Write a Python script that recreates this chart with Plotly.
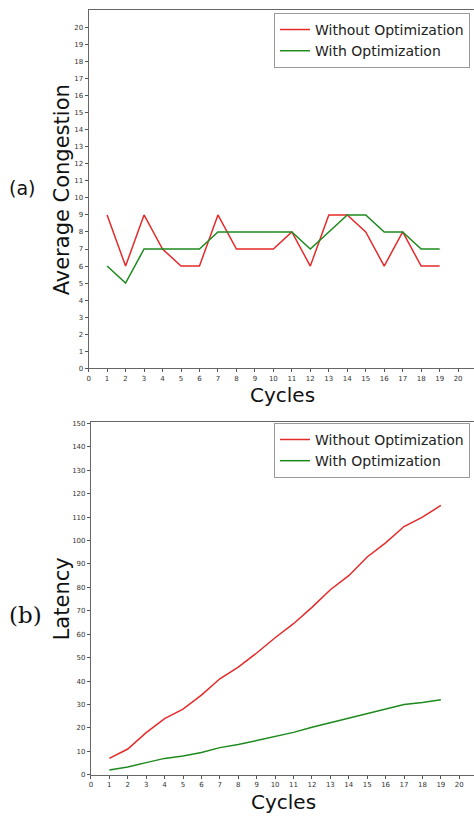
import plotly.graph_objects as go

cycles = list(range(1, 20))
congestion_without = [9, 6, 9, 7, 6, 6, 9, 7, 7, 7, 8, 6, 9, 9, 8, 6, 8, 6, 6]
congestion_with = [6, 5, 7, 7, 7, 7, 8, 8, 8, 8, 8, 7, 8, 9, 9, 8, 8, 7, 7]
latency_without = [7, 11, 18, 24, 28, 34, 41, 46, 52, 58.5, 64.5, 71.5, 79, 85, 93, 99, 106, 110, 115]
latency_with = [2, 3.3, 5.2, 7, 8, 9.5, 11.6, 12.9, 14.6, 16.4, 18.1, 20.3, 22.3, 24.3, 26.3, 28.2, 30, 30.9, 32]
x_ticks = list(range(0, 21))
congestion_ticks = list(range(0, 21))
latency_ticks = list(range(0, 151, 10))
names = ["Without Optimization", "With Optimization"]

RED = "#e52a2a"
GREEN = "#1e8a1e"
W, H = 474, 817

fig = go.Figure()
fig.add_trace(go.Scatter(x=cycles, y=congestion_without, mode="lines", name=names[0],
                         line=dict(color=RED, width=1.5), xaxis="x", yaxis="y", legend="legend"))
fig.add_trace(go.Scatter(x=cycles, y=congestion_with, mode="lines", name=names[1],
                         line=dict(color=GREEN, width=1.5), xaxis="x", yaxis="y", legend="legend"))
fig.add_trace(go.Scatter(x=cycles, y=latency_without, mode="lines", name=names[0],
                         line=dict(color=RED, width=1.5), xaxis="x2", yaxis="y2", legend="legend2"))
fig.add_trace(go.Scatter(x=cycles, y=latency_with, mode="lines", name=names[1],
                         line=dict(color=GREEN, width=1.5), xaxis="x2", yaxis="y2", legend="legend2"))

tickfont = dict(family="DejaVu Sans", size=7, color="#333")
common_x = dict(tickmode="array", tickvals=x_ticks, ticktext=[str(v) for v in x_ticks],
                ticks="outside", ticklen=3, tickcolor="#555", showgrid=False, zeroline=False,
                showline=True, linecolor="#666", linewidth=1, mirror=True, tickfont=tickfont)
common_y = dict(ticks="outside", ticklen=3, tickcolor="#555", showgrid=False, zeroline=False,
                showline=True, linecolor="#666", linewidth=1, tickfont=tickfont, tickmode="array")


def px_x(v):
    return v / W


def px_y(v):
    return 1 - v / H


legend_style = dict(xanchor="right", yanchor="top", bgcolor="white", bordercolor="#999", borderwidth=1,
                    font=dict(family="DejaVu Sans", size=14, color="#222"))

fig.update_layout(
    width=W, height=H, margin=dict(l=0, r=0, t=0, b=0),
    paper_bgcolor="white", plot_bgcolor="white",
    xaxis=dict(domain=[px_x(87), 1], range=[0, 20.86], anchor="y", **common_x),
    yaxis=dict(domain=[px_y(369), px_y(8)], range=[0, 21.03], anchor="x",
               tickvals=congestion_ticks, ticktext=[str(v) for v in congestion_ticks], **common_y),
    xaxis2=dict(domain=[px_x(89.3), 1], range=[0, 20.8], anchor="y2", **common_x),
    yaxis2=dict(domain=[px_y(778.5), px_y(422.7)], range=[0, 150.8], anchor="x2",
                tickvals=latency_ticks, ticktext=[str(v) for v in latency_ticks], **common_y),
    legend=dict(x=px_x(470), y=px_y(11), **legend_style),
    legend2=dict(x=px_x(470), y=px_y(424), **legend_style),
    showlegend=True,
)

title_font = dict(family="DejaVu Sans", size=21, color="#111")
cycles_font = dict(family="DejaVu Sans", size=20, color="#111")
annos = [
    dict(text="Average Congestion", x=px_x(60), y=px_y(189), textangle=-90, font=title_font),
    dict(text="Cycles", x=px_x(282), y=px_y(395.5), font=cycles_font),
    dict(text="Latency", x=px_x(60), y=px_y(601), textangle=-90, font=title_font),
    dict(text="Cycles", x=px_x(283), y=px_y(805.5), font=cycles_font),
    dict(text="(a)", x=px_x(20), y=px_y(187), font=dict(family="DejaVu Sans", size=19, color="#111")),
    dict(text="(b)", x=px_x(24), y=px_y(618), font=dict(family="DejaVu Serif", size=23, color="#111")),
]
for a in annos:
    fig.add_annotation(xref="paper", yref="paper", xanchor="center", yanchor="middle",
                       showarrow=False, borderpad=0, **a)

fig.write_html("out.html", config={"displayModeBar": False},
               post_script="document.body.style.margin='0';document.body.style.overflow='hidden';")
